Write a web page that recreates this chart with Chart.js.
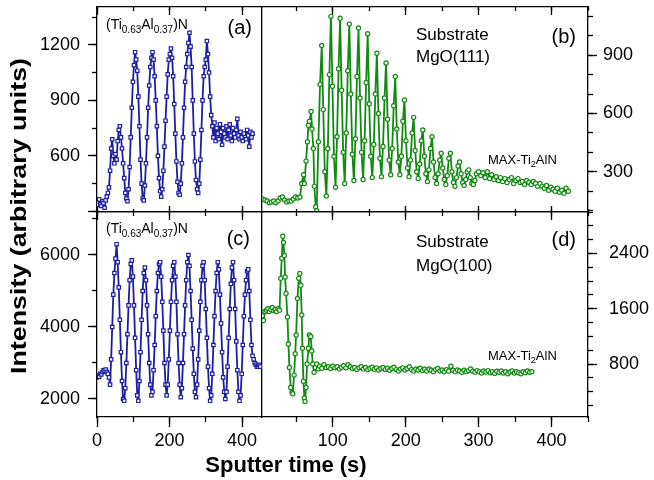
<!DOCTYPE html>
<html>
<head>
<meta charset="utf-8">
<script src="https://cdn.jsdelivr.net/npm/chart.js@4.4.1/dist/chart.umd.min.js"></script>
<style>
  html, body { margin: 0; padding: 0; background: #fff; }
  #wrap { position: relative; width: 654px; height: 480px; }
  #wrap canvas { position: absolute; left: 0; top: 0; }
</style>
</head>
<body>
<div id="wrap">
  <canvas id="panelA" width="654" height="480"></canvas>
  <canvas id="panelB" width="654" height="480"></canvas>
  <canvas id="panelC" width="654" height="480"></canvas>
  <canvas id="panelD" width="654" height="480"></canvas>
</div>
<script>
// --- sputter times (s) for the left panels (a) and (c)
const timeLeft = [
  0,3,6,9,12,15,18,21,24,27, 30,33,36,39,42,45,48,51,54,57,
  60,63,66,69,72,75,78,81,84,87, 90,93,96,99,102,105,108,111,114,117,
  120,123,126,129,132,135,138,141,144,147, 150,153,156,159,162,165,168,171,174,177,
  180,183,186,189,192,195,198,201,204,207, 210,213,216,219,222,225,228,231,234,237,
  240,243,246,249,252,255,258,261,264,267, 270,273,276,279,282,285,288,291,294,297,
  300,303,306,309,312,315,318,321,324,327, 330,333,336,339,342,345,348,351,354,357,
  360,363,366,369,372,375,378,381,384,387, 390,393,396,399,402,405,408,411,414,417,
  420,423,426,429,432,435,438,441,444,447, 450
];

// --- (a) (Ti0.63Al0.37)N on MgO(111)
const intensityA = [
  350,335,365,340,330,355,345,320,360,380, 400,430,520,640,690,600,560,610,580,680,
  740,760,700,640,560,480,400,370,355,420, 540,700,860,1000,1090,1160,1120,1060,920,760,
  580,450,370,360,440,560,700,860,980,1080, 1130,1160,1120,1030,900,760,600,480,410,380,
  420,520,650,790,920,1040,1120,1150,1180,1130, 1030,880,720,570,460,400,390,450,560,700,
  860,1000,1080,1150,1210,1265,1190,1080,900,720, 570,470,420,400,450,580,740,900,1030,1080,
  1120,1220,1150,1050,920,820,760,700,780,680, 750,720,690,770,730,660,750,720,700,760,
  690,740,770,710,680,750,720,700,740,800, 710,690,730,700,680,720,700,690,740,710,
  650,730,700,720
];

// --- (c) (Ti0.63Al0.37)N on MgO(100)
const intensityC = [
  2600,2650,2620,2700,2680,2750,2800,2780,2820,2750, 2700,2600,2400,3100,4000,4900,5500,5900,6300,5800,
  5100,4200,3300,2500,2000,1950,2300,3000,3800,4600, 5300,5750,5850,5400,4600,3700,2800,2100,1950,2500,
  3300,4200,5000,5500,5650,5300,4600,3800,3000,2400, 2100,2200,2800,3500,4300,5000,5500,5750,5800,5400,
  4700,3900,3000,2400,2100,2400,3100,3900,4700,5300, 5700,5800,5400,4700,3800,3000,2400,2050,2300,3000,
  3800,4600,5300,5800,6000,5700,5000,4200,3400,2700, 2200,2050,2400,3100,3900,4700,5300,5700,5800,5300,
  4500,3700,2900,2300,1950,2100,2700,3500,4300,5000, 5500,5800,5600,4900,4100,3300,2600,2200,2000,2200,
  2900,3700,4500,5200,5650,5800,5300,4500,3600,2800, 2200,1950,2100,2700,3500,4300,4900,5300,5550,5600,
  5000,4200,3500,3200,3100,3000,2950,2900,2900,2950, 2900
];

// --- (b) MAX-Ti2AlN on MgO(111)
const timeB = [
  4,7,10,13,16,19,22,25,28,31,34,37,40,43,46,49,52,55,
  57.5,60,61.1,63.4,65.3,66.6,68,70.3,71.6,73.5,74.8,76.6,78,80.3,82.6,
  84.9,87.0,89.1,91.2,93.3,95.4, 97.5,99.6,101.7,103.8,105.9,108.0,
  110.1,112.2,114.3,116.4,118.5,120.6, 122.7,124.8,126.9,129.0,131.1,133.2,
  135.3,137.4,139.5,141.6,143.7,145.8, 147.9,150.0,152.1,154.2,156.3,158.4,
  160.5,162.6,164.7,166.8,168.9,171.0, 173.1,175.2,177.3,179.4,181.5,183.6,
  185.7,187.8,189.9,192.0,194.1,196.2, 198.3,200.4,202.5,204.6,206.7,208.8,
  210.9,213.0,215.1,217.2,219.3,221.4, 223.5,225.6,227.7,229.8,231.9,234.0,
  236.1,238.2,240.3,242.4,244.5,246.6, 248.7,250.8,252.9,255.0,257.1,259.2,
  261.3,263.4,265.5,267.6,269.7,271.8, 273.9,276.0,278.1,280.2,282.3,284.4,
  286.5,288.6,290.7,292.8,294.9,297.0,
  300,303,306,309,312,315,318,321,324,327, 330,333,336,339,342,345,348,351,354,357,
  360,363,366,369,372,375,378,381,384,387, 390,393,396,399,402,405,408,411,414,417,
  420,423
];
const intensityB = [
  160,155,150,140,145,150,140,150,165,170,155,145,150,150,160,170,165,170,
  240,285,240,355,455,540,560,610,520,420,225,120,100,455,750,
  950,620,300,175,420,800, 1100,740,380,220,480,830,
  1090,720,400,240,500,820, 1060,700,390,255,470,790,
  1040,680,400,260,460,760, 1010,650,380,270,440,700,
  910,600,370,275,430,680, 860,570,360,285,420,640,
  790,520,350,285,380,560, 670,460,320,275,360,500,
  580,410,300,265,340,460, 515,380,290,250,310,420,
  480,350,270,240,290,360, 395,320,260,235,280,370,
  395,300,245,225,270,330, 350,290,245,230,260,300,
  310,270,240,235,255,290,
  300,280,295,270,300,265,285,260,275,255, 270,250,265,245,260,270,240,255,265,245,
  250,235,255,245,235,250,240,225,240,225, 215,230,205,220,210,200,215,195,205,190,
  215,200
];

// --- (d) MAX-Ti2AlN on MgO(100)
const timeD = [
  3.6,5,7,9,11,13,15,17,19,21,23,25,27,
  28.7,30.1,31.5,32.4,33.7,34.7,36.0,37.9,39.2,40.6,42.4,44.2,45.2,47.0,48.5,49.8,51.6,53.4,
  54.8,56.2,57.5,58.4,59.8,61.1,62.0,63.4,64.8,66.6,68.0,69.8,71.2,72.6,74.4,76.2,78.0,80.3,
  82,85,88,91,94,97,100,103,106,109, 112,115,118,121,124,127,130,133,136,139,
  142,145,148,151,154,157,160,163,166,169, 172,175,178,181,184,187,190,193,196,199,
  202,205,208,211,214,217,220,223,226,229, 232,235,238,241,244,247,250,253,256,259,
  262,265,268,271,274,277,280,283,286,289, 292,295,298,301,304,307,310,313,316,319,
  322,325,328,331,334,337,340,343,346,349, 352,355,358,361,364,367,370,373
];
const intensityD = [
  1500,1430,1560,1580,1600,1560,1590,1620,1570,1590,1560,1600,1580,
  2040,2330,2650,2560,2370,2060,1820,1480,1090,750,460,390,370,640,950,1220,1750,2040,
  2110,1940,1510,1030,550,310,260,460,800,1030,1220,1200,990,800,680,750,800,730,
  770,740,790,750,760,735,770,745,760,730, 755,775,745,790,760,735,750,720,745,760,
  730,750,720,740,755,725,745,715,735,750, 720,740,710,735,755,720,700,730,745,715,
  735,760,720,700,730,715,740,705,725,700, 730,710,690,720,735,700,715,690,720,700,
  770,710,690,715,700,680,710,690,705,730, 695,680,705,690,670,700,685,705,675,690,
  665,695,680,700,670,690,660,685,700,670, 690,675,660,690,675,700,680,690
];

// --- ticks
const xLabelsLeft = [0, 200, 400];
const xLabelsRight = [100, 200, 300, 400];
const yLabelsA = [600, 900, 1200];
const yLabelsB = [300, 600, 900];
const yLabelsC = [2000, 4000, 6000];
const yLabelsD = [800, 1600, 2400];

const FONT = "'Liberation Sans', Arial, Helvetica, sans-serif";
const BLUE = '#1e1ea2';
const GREEN = '#128a12';
const formula = [['(Ti', 14, 0], ['0.63', 10, 4], ['Al', 14, 0], ['0.37', 10, 4], [')N', 14, 0]];
const maxLabel = [['MAX-Ti', 13, 0], ['2', 9, 3], ['AlN', 13, 0]];

// every axis gets a fixed box size, so the plot area is set by the layout padding
function fixSize(scale, size) {
  if (scale.isHorizontal()) scale.height = size; else scale.width = size;
  scale.paddingLeft = scale.paddingRight = scale.paddingTop = scale.paddingBottom = 0;
}

// ticks on whole multiples of step inside the range (stepSize + min/max snaps badly)
function stepTicks(scale, step) {
  const ticks = [];
  for (let v = Math.ceil(scale.min / step) * step; v <= scale.max; v += step) ticks.push({ value: v });
  scale.ticks = ticks;
}

// size > 0 only for the axes that carry labels
function axis(name, position, range, step, tickLen, labels, pad, border, size) {
  return {
    type: 'linear', axis: name, position, min: range[0], max: range[1],
    weight: size ? 1 : 0,
    afterFit: s => fixSize(s, size || 0),
    afterBuildTicks: s => stepTicks(s, step),
    border: { display: border, color: '#000', width: 1.3 },
    grid: { display: tickLen !== 0, drawOnChartArea: false, drawTicks: true,
            tickLength: tickLen, tickColor: '#000', tickWidth: 1.3 },
    ticks: {
      display: !!labels, autoSkip: false,
      maxRotation: 0, minRotation: 0, padding: pad, color: '#000',
      font: { family: FONT, size: 18 },
      callback: v => (labels && labels.includes(v)) ? String(v) : ''
    }
  };
}

// --- texts inside the panels
const notesPlugin = {
  id: 'notes',
  afterDraw(chart, args, opts) {
    const ctx = chart.ctx, a = chart.chartArea;
    ctx.save();
    ctx.fillStyle = '#000';
    ctx.textBaseline = 'alphabetic';
    ctx.textAlign = 'left';
    (opts.items || []).forEach(it => {
      let w = 0;
      it.parts.forEach(p => { ctx.font = p[1] + 'px ' + FONT; w += ctx.measureText(p[0]).width; });
      let x = it.right != null ? a.right - it.right - w : a.left + it.left;
      const y = a.top + it.top;
      it.parts.forEach(p => {
        ctx.font = p[1] + 'px ' + FONT;
        ctx.fillText(p[0], x, y + p[2]);
        x += ctx.measureText(p[0]).width;
      });
    });
    ctx.restore();
  }
};

// --- shared axis titles
const titlesPlugin = {
  id: 'titles',
  afterDraw(chart) {
    const ctx = chart.ctx;
    ctx.save();
    ctx.fillStyle = '#000';
    ctx.font = 'bold 22px ' + FONT;
    ctx.textAlign = 'center';
    ctx.textBaseline = 'alphabetic';
    ctx.fillText('Sputter time (s)', 286, 472);
    const yTitle = 'Intensity (arbitrary units)';
    const w = ctx.measureText(yTitle).width;
    ctx.translate(20, 216);
    ctx.rotate(-Math.PI / 2);
    ctx.scale(316 / w, 1);
    ctx.textBaseline = 'middle';
    ctx.fillText(yTitle, 0, 0);
    ctx.restore();
  }
};

function panel(id, box, times, values, spec) {
  const [l, t, r, b] = box;
  const points = values.map((v, i) => ({ x: times[i], y: v }));
  const other = spec.ySide === 'left' ? 'right' : 'left';
  const ySize = spec.ySide === 'left' ? l : 654 - r;
  const xSize = spec.xLabels ? 480 - b : 0;
  const scales = {
    x: axis('x', 'bottom', spec.xRange, spec.xStep, spec.xTick[0], spec.xLabels, 3, true, xSize),
    xMinor: axis('x', 'bottom', spec.xRange, spec.xStep / 2, spec.xTick[1], null, 0, false, 0),
    xTop: axis('x', 'top', spec.xRange, spec.xStep, -8, null, 0, true, 0),
    xTopMinor: axis('x', 'top', spec.xRange, spec.xStep / 2, -4, null, 0, false, 0),
    y: axis('y', spec.ySide, spec.yRange, spec.yStep, 9, spec.yLabels, spec.yPad, true, ySize),
    yMinor: axis('y', spec.ySide, spec.yRange, spec.yMinor, 5, null, 0, false, 0),
    yOther: axis('y', other, spec.yRange, spec.yStep, 0, null, 0, spec.ySide === 'left', 0)
  };
  const pad = {
    left: spec.ySide === 'left' ? 0 : l,
    right: spec.ySide === 'right' ? 0 : 654 - r,
    top: t,
    bottom: 480 - b - xSize
  };
  new Chart(document.getElementById(id), {
    type: 'line',
    data: {
      datasets: [{
        data: points,
        borderColor: spec.color,
        borderWidth: 1.8,
        borderJoinStyle: 'round',
        borderCapStyle: 'round',
        tension: 0,
        fill: false,
        pointStyle: spec.marker,
        pointRadius: spec.marker === 'rect' ? 2.4 : 2.1,
        pointBorderWidth: 1.2,
        pointBorderColor: spec.color,
        pointBackgroundColor: '#fff'
      }]
    },
    options: {
      responsive: false,
      animation: false,
      events: [],
      layout: { padding: pad },
      plugins: { legend: { display: false }, tooltip: { enabled: false }, notes: { items: spec.notes } },
      scales
    },
    plugins: spec.titles ? [notesPlugin, titlesPlugin] : [notesPlugin]
  });
}

panel('panelA', [97, 7, 262, 212], timeLeft, intensityA, {
  xRange: [0, 455], xStep: 200, xTick: [-6, -3], xLabels: null,
  yRange: [297, 1404], yStep: 300, yMinor: 150, yLabels: yLabelsA, ySide: 'left', yPad: 8,
  color: BLUE, marker: 'rect',
  notes: [{ left: 9, top: 22, parts: formula }, { right: 10, top: 27, parts: [['(a)', 20, 0]] }]
});

panel('panelB', [262, 7, 588, 212], timeB, intensityB, {
  xRange: [3, 450], xStep: 100, xTick: [-6, -3], xLabels: null,
  yRange: [93, 1148], yStep: 300, yMinor: 100, yLabels: yLabelsB, ySide: 'right', yPad: 6,
  color: GREEN, marker: 'circle',
  notes: [
    { left: 154, top: 32.5, parts: [['Substrate', 17, 0]] },
    { left: 154, top: 55, parts: [['MgO(111)', 17, 0]] },
    { right: 12, top: 36, parts: [['(b)', 20, 0]] },
    { left: 226, top: 157, parts: maxLabel }
  ]
});

panel('panelC', [97, 212, 262, 417], timeLeft, intensityC, {
  xRange: [0, 455], xStep: 200, xTick: [10, 5], xLabels: xLabelsLeft,
  yRange: [1500, 7194], yStep: 2000, yMinor: 1000, yLabels: yLabelsC, ySide: 'left', yPad: 8,
  color: BLUE, marker: 'rect',
  notes: [{ left: 9, top: 21, parts: formula }, { right: 12, top: 33, parts: [['(c)', 20, 0]] }]
});

panel('panelD', [262, 212, 588, 417], timeD, intensityD, {
  xRange: [3, 450], xStep: 100, xTick: [10, 5], xLabels: xLabelsRight,
  yRange: [34, 3000], yStep: 800, yMinor: 200, yLabels: yLabelsD, ySide: 'right', yPad: 12,
  color: GREEN, marker: 'circle', titles: true,
  notes: [
    { left: 154, top: 34.7, parts: [['Substrate', 17, 0]] },
    { left: 154, top: 59, parts: [['MgO(100)', 17, 0]] },
    { right: 12, top: 34, parts: [['(d)', 20, 0]] },
    { left: 226, top: 148, parts: maxLabel }
  ]
});
</script>
</body>
</html>
